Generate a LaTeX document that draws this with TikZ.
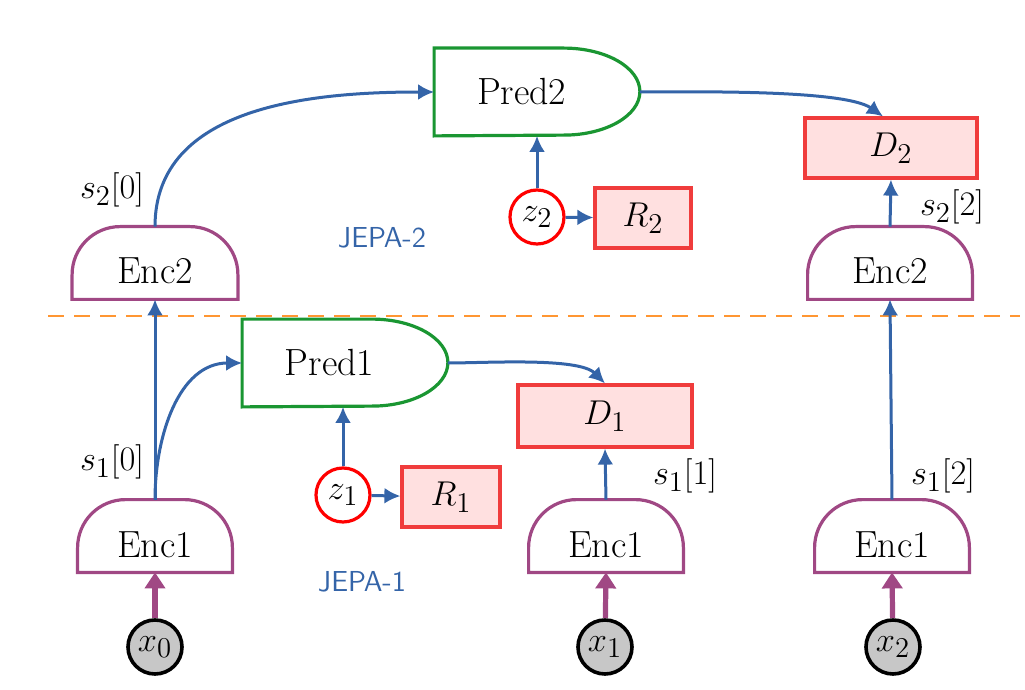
\documentclass[tikz,border=0pt]{standalone}
\usepackage{amsmath}
\usepackage{xcolor}
\usepackage{tikz}
\usetikzlibrary{arrows.meta}
\definecolor{arrblue}{RGB}{52,100,168}
\definecolor{encpurple}{RGB}{160,72,132}
\definecolor{predgreen}{RGB}{26,150,50}
\definecolor{boxred}{RGB}{240,60,60}
\definecolor{boxpink}{RGB}{255,224,224}
\definecolor{dashorange}{RGB}{255,150,50}
\newcommand{\encshape}[1]{\draw[encpurple,line width=1.6bp] (#1.south west) [rounded corners=24bp] -- (#1.north west) -- (#1.north east) [sharp corners] -- (#1.south east) -- cycle;}
\newcommand{\predshape}[1]{\draw[predgreen,line width=1.6bp] (#1.south west) -- (#1.north west) -- ([xshift=-38bp]#1.north east) arc[start angle=90,end angle=-90,x radius=38bp,y radius=21.75bp] -- cycle;}
\begin{document}
\begin{tikzpicture}[x=0.5bp,y=-0.5bp,
  font=\fontsize{19}{22}\selectfont,
  encnode/.style={minimum width=77bp,minimum height=36bp,inner sep=0pt,text height=21bp,text depth=0pt},
  prednode/.style={minimum width=102.5bp,minimum height=43.5bp,inner sep=0pt,align=left,text width=92bp},
  dbox/.style={draw=boxred,fill=boxpink,line width=1.6bp,inner sep=0pt},
  zcirc/.style={circle,draw=red,line width=1.6bp,fill=white,minimum size=27bp,inner sep=0pt},
  xcirc/.style={circle,draw=black,line width=1.8bp,fill=black!22,minimum size=27bp,inner sep=0pt},
  normal line/.style={arrblue,line width=1.5bp,-{Latex[length=8bp,width=8bp]}},
  input line/.style={encpurple,line width=2.6bp,-{Triangle[length=8bp,width=10bp]}},
  jepa/.style={text=arrblue,font=\sffamily\fontsize{14.5}{17}\selectfont}
  ]
\useasboundingbox (0,0) rectangle (1025,690);
\draw[dashorange,line width=1.2bp,dash pattern=on 8bp off 5bp] (48,316) -- (1020,316);
% encoders
\node[encnode] (e1a) at (155,536) {Enc1};
\node[encnode] (e1b) at (606,536) {Enc1};
\node[encnode] (e1c) at (892,536) {Enc1};
\node[encnode,minimum width=82.5bp] (e2a) at (155,263) {Enc2};
\node[encnode,minimum width=82bp] (e2c) at (890,263) {Enc2};
\encshape{e1a}\encshape{e1b}\encshape{e1c}\encshape{e2a}\encshape{e2c}
% predictors
\node[prednode] (p1) at (345,363) {\hspace{16bp}Pred1};
\node[prednode] (p2) at (537,92) {\hspace{16bp}Pred2};
\predshape{p1}\predshape{p2}
% boxes
\node[dbox,minimum width=87bp,minimum height=31bp] (d1) at (605,416) {$D_1$};
\node[dbox,minimum width=86bp,minimum height=30bp] (d2) at (891,148) {$D_2$};
\node[dbox,minimum width=49bp,minimum height=30bp] (r1) at (451,497) {$R_1$};
\node[dbox,minimum width=48bp,minimum height=30bp] (r2) at (643,218) {$R_2$};
\node[zcirc] (z1) at (343,495) {$z_1$};
\node[zcirc] (z2) at (537,217) {$z_2$};
% inputs
\node[xcirc] (x0) at (155,647) {$x_0$};
\node[xcirc] (x1) at (605,647) {$x_1$};
\node[xcirc] (x2) at (893,647) {$x_2$};
\draw[input line] (x0) -- (e1a.south);
\draw[input line] (x1) -- (e1b.south);
\draw[input line] (x2) -- (e1c.south);
% connectors
\draw[normal line] (e1a.north) -- (e2a.south);
\draw[normal line] (e1a.north) to[out=90,in=180] (p1.west);
\draw[normal line] (e2a.north) to[out=90,in=180] (p2.west);
\draw[normal line] (p1.east) to[out=0,in=135,looseness=0.6] (d1.north);
\draw[normal line] (p2.east) to[out=0,in=145,looseness=0.5] ([xshift=-4bp]d2.north);
\draw[normal line] (e1b.north) -- (d1.south);
\draw[normal line] (e1c.north) -- (e2c.south);
\draw[normal line] (e2c.north) -- (d2.south);
\draw[normal line] (z1) -- (z1 |- p1.south);
\draw[normal line] (z2) -- (z2 |- p2.south);
\draw[normal line] (z1) -- (r1);
\draw[normal line] (z2) -- (r2);
% labels
\node at (112,462) {$s_1[0]$};
\node at (112,190) {$s_2[0]$};
\node at (685,476) {$s_1[1]$};
\node at (943,476) {$s_1[2]$};
\node at (952,207) {$s_2[2]$};
\node[jepa] at (382,238) {JEPA-2};
\node[jepa] at (362,582) {JEPA-1};
\end{tikzpicture}
\end{document}
